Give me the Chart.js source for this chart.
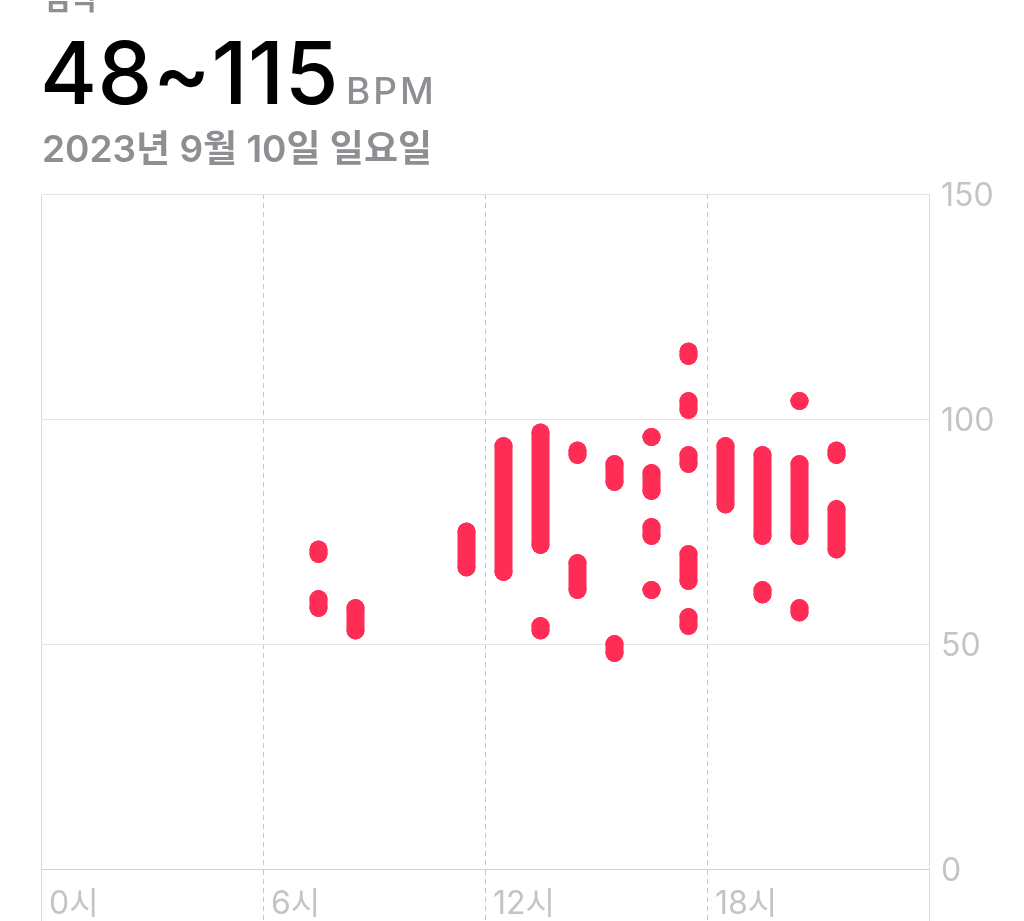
<!DOCTYPE html>
<html lang="ko">
<head>
<meta charset="utf-8">
<title>심박</title>
<script src="https://cdn.jsdelivr.net/npm/chart.js@4.4.0/dist/chart.umd.min.js"></script>
<style>
    html, body {
        margin: 0;
        padding: 0;
        width: 1024px;
        height: 921px;
        overflow: hidden;
        background: #fff;
        font-family: Inter, "Noto Sans CJK KR", sans-serif;
    }
    .label {
        position: absolute;
        white-space: nowrap;
        line-height: 1;
        z-index: 2;
    }
    #title {
        left: 43px;
        top: -17px;
        font-size: 30px;
        font-weight: 600;
        color: #8e8e93;
    }
    #range {
        left: 40px;
        top: 29px;
        font-size: 87px;
        font-weight: 500;
        color: #000;
        letter-spacing: 0.5px;
    }
    #range .unit {
        font-size: 37px;
        color: #8e8e93;
        letter-spacing: 3px;
        margin-left: 7px;
    }
    #date {
        left: 42px;
        top: 130px;
        font-size: 37px;
        font-weight: 600;
        color: #8e8e93;
    }
    #chartBox {
        position: absolute;
        left: 0;
        top: 0;
        width: 1024px;
        height: 921px;
    }
</style>
</head>
<body>
<div class="label" id="title">심박</div>
<div class="label" id="range">48~115<span class="unit">BPM</span></div>
<div class="label" id="date">2023년 9월 10일 일요일</div>
<div id="chartBox"><canvas id="hrChart" width="1024" height="921"></canvas></div>

<script>
// heart rate readings, one entry per capsule (hour of day, low bpm, high bpm)
const segHour = [7, 7, 8, 11, 12, 13, 13, 14, 14, 15, 15, 16, 16, 16, 16, 17, 17, 17, 17, 17, 18, 19, 19, 20, 20, 20, 21, 21];
const segLow  = [70, 58, 53, 67, 66, 72, 53, 92, 62, 86, 48, 96, 84, 74, 62, 114, 102, 90, 64, 54, 81, 74, 61, 104, 74, 57, 92, 71];
const segHigh = [71, 60, 58, 75, 94, 97, 54, 93, 68, 90, 50, 96, 88, 76, 62, 115, 104, 92, 70, 56, 94, 92, 62, 104, 90, 58, 93, 80];

// axis ticks
const hourTicks = [0, 6, 12, 18, 24];
const bpmTicks = [0, 50, 100, 150];

const hrColor = '#ff2d55';
const gridColor = '#e3e3e3';
const edgeColor = '#dadada';
const dashColor = '#c9c9c9';
const axisColor = '#d2d2d2';
const tickTextColor = '#c4c4c4';

Chart.defaults.font.family = "Inter, 'Noto Sans CJK KR', sans-serif";

// one small line dataset per capsule, placed in the middle of its hour
function buildDatasets() {
    return segHour.map(function (h, i) {
        return {
            data: [
                { x: h + 0.5, y: segLow[i] },
                { x: h + 0.5, y: segHigh[i] }
            ],
            showLine: true,
            borderColor: hrColor,
            borderWidth: 18,
            borderCapStyle: 'round',
            pointRadius: 9,
            pointHoverRadius: 9,
            pointBorderWidth: 0,
            pointBackgroundColor: hrColor
        };
    });
}

function isEdgeHour(c) {
    return c.tick && c.tick.value % 24 === 0;
}

document.addEventListener('DOMContentLoaded', function () {
    const ctx = document.getElementById('hrChart');
    if (!ctx) return;

    new Chart(ctx, {
        type: 'scatter',
        data: { datasets: buildDatasets() },
        options: {
            responsive: false,
            animation: false,
            events: [],
            layout: {
                padding: { left: 41, top: 194, right: 0, bottom: 0 }
            },
            plugins: {
                legend: { display: false },
                tooltip: { enabled: false }
            },
            scales: {
                x: {
                    type: 'linear',
                    position: 'bottom',
                    min: hourTicks[0],
                    max: hourTicks[hourTicks.length - 1],
                    afterBuildTicks: function (scale) {
                        scale.ticks = hourTicks.map(function (v) { return { value: v }; });
                    },
                    afterFit: function (scale) {
                        scale.height = 52;
                    },
                    ticks: {
                        callback: function (v) {
                            return v < 24 ? v + '시' : '';
                        },
                        align: 'start',
                        labelOffset: 8,
                        padding: -36,
                        maxRotation: 0,
                        color: tickTextColor,
                        font: { size: 32 }
                    },
                    grid: {
                        color: function (c) {
                            return isEdgeHour(c) ? edgeColor : dashColor;
                        },
                        tickColor: function (c) {
                            return isEdgeHour(c) ? edgeColor : dashColor;
                        },
                        tickLength: 52,
                        tickBorderDash: function (c) {
                            return isEdgeHour(c) ? [] : [5, 4];
                        }
                    },
                    border: {
                        color: axisColor,
                        dash: function (c) {
                            return isEdgeHour(c) ? [] : [5, 4];
                        }
                    }
                },
                y: {
                    position: 'right',
                    min: bpmTicks[0],
                    max: bpmTicks[bpmTicks.length - 1],
                    afterBuildTicks: function (scale) {
                        scale.ticks = bpmTicks.map(function (v) { return { value: v }; });
                    },
                    afterFit: function (scale) {
                        scale.width = 95;
                    },
                    ticks: {
                        padding: 12,
                        labelOffset: 2,
                        color: tickTextColor,
                        font: { size: 32 }
                    },
                    grid: {
                        drawTicks: false,
                        color: function (c) {
                            return c.tick && c.tick.value === 0 ? axisColor : gridColor;
                        }
                    },
                    border: {
                        color: edgeColor
                    }
                }
            }
        }
    });
});
</script>
</body>
</html>
